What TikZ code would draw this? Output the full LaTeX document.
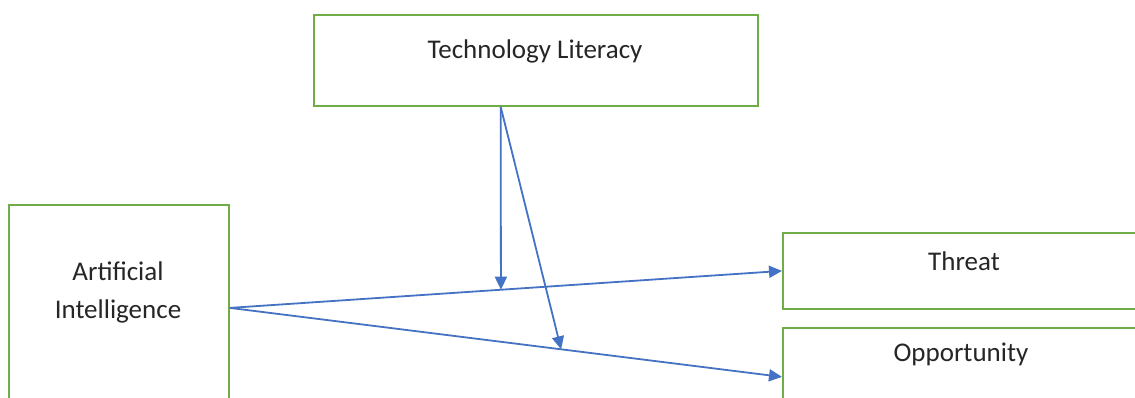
\documentclass[tikz,border=0pt]{standalone}
\usepackage{fontspec}
\setmainfont{Carlito}
\usetikzlibrary{arrows.meta,calc}
\definecolor{boxgreen}{RGB}{112,173,71}
\definecolor{arrblue}{RGB}{68,114,196}
\begin{document}
\begin{tikzpicture}[x=1pt,y=-1pt,
  box/.style={draw=boxgreen,line width=1.8pt,fill=white,rectangle,inner sep=0pt,anchor=north west},
  lbl/.style={font=\fontsize{27}{38}\selectfont,text=black!85,inner sep=0pt},
  arr/.style={draw=arrblue,line width=1.8pt,-{Triangle[length=13pt,width=12pt]}}]
\useasboundingbox (0,0) rectangle (1135,397);
\clip (0,0) rectangle (1135,397);
\fill[white] (0,0) rectangle (1135,397);
\node[box,minimum width=444pt,minimum height=91pt] (tl) at (313,14) {};
\node[box,minimum width=220pt,minimum height=206pt] (ai) at (8,204) {};
\node[box,minimum width=364pt,minimum height=76pt] (thr) at (782,232) {};
\node[box,minimum width=364pt,minimum height=98pt] (opp) at (782,327) {};
\node[lbl,anchor=base] (tltext) at (535,58) {Technology Literacy};
\node[lbl,anchor=base,align=center] (aitext) at (118,318) {Artificial\\Intelligence};
\node[lbl,anchor=base] (thrtext) at (964,270) {Threat};
\node[lbl,anchor=base] (opptext) at (961,361) {Opportunity};
\coordinate (tlsrc) at ($(tl.south west)!0.421!(tl.south east)$);
\coordinate (m1) at ($(ai.east)!0.491!(thr.west)$);
\coordinate (m2) at ($(ai.east)!0.6!(opp.west)$);
\draw[arr] (ai.east) -- (thr.west);
\draw[arr] (ai.east) -- (opp.west);
\draw[arr] (tlsrc) -- (m1);
\draw[arr] (tlsrc) -- (m2);
\end{tikzpicture}
\end{document}
